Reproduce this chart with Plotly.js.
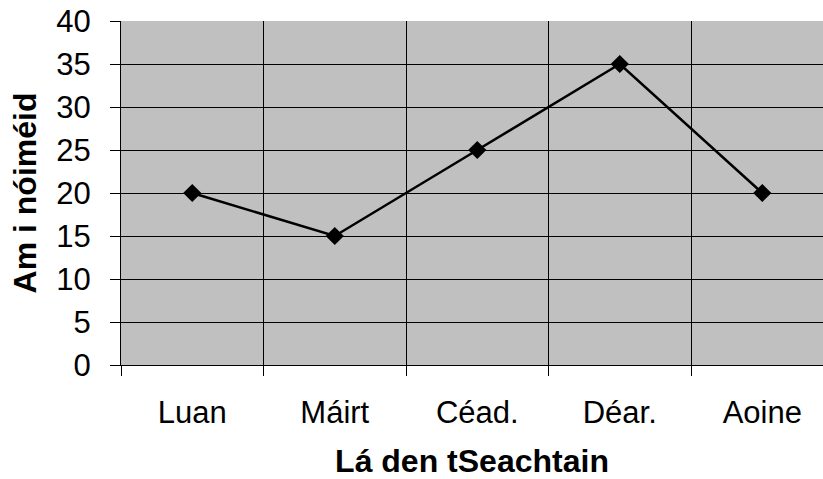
<!DOCTYPE html>
<html>
<head>
<meta charset="utf-8">
<script src="https://cdn.plot.ly/plotly-3.0.1.min.js"></script>
<style>html,body{margin:0;padding:0;background:#fff;}#chart{width:823px;height:479px;}</style>
</head>
<body>
<div id="chart"></div>
<script>
const categories = ["Luan", "Máirt", "Céad.", "Déar.", "Aoine"];
const values = [20, 15, 25, 35, 20];
const yTicks = [0, 5, 10, 15, 20, 25, 30, 35, 40];
const xTitle = "Lá den tSeachtain";
const yTitle = "Am i nóiméid";

const font = "Liberation Sans, Arial, sans-serif";

Plotly.newPlot("chart", [{
  x: categories,
  y: values,
  type: "scatter",
  mode: "lines+markers",
  line: {color: "#000", width: 2.5},
  marker: {symbol: "diamond", size: 14, color: "#000"},
  hoverinfo: "x+y"
}], {
  width: 823,
  height: 479,
  margin: {l: 121, r: 0, t: 21, b: 114},
  paper_bgcolor: "#fff",
  plot_bgcolor: "#c0c0c0",
  showlegend: false,
  font: {family: font, color: "#000", size: 31},
  xaxis: {
    type: "category",
    range: [-0.5, 4.426],
    tickson: "boundaries",
    showgrid: true,
    gridcolor: "#000",
    gridwidth: 1,
    ticks: "outside",
    ticklen: 10,
    tickcolor: "#000",
    showline: true,
    linecolor: "#000",
    linewidth: 1,
    tickfont: {size: 31, family: font},
    ticklabelstandoff: 20,
    title: {text: xTitle, font: {size: 32, family: font, weight: "bold"}, standoff: 30},
    fixedrange: true
  },
  yaxis: {
    range: [0, 40],
    tickmode: "array",
    tickvals: yTicks,
    showgrid: true,
    gridcolor: "#000",
    gridwidth: 1,
    zeroline: false,
    ticks: "outside",
    ticklen: 10,
    tickcolor: "#000",
    showline: true,
    linecolor: "#000",
    linewidth: 1,
    tickfont: {size: 31, family: font},
    ticklabelstandoff: 13,
    title: {text: yTitle, font: {size: 32, family: font, weight: "bold"}, standoff: 10},
    fixedrange: true
  }
}, {displayModeBar: false, staticPlot: false});
</script>
</body>
</html>
